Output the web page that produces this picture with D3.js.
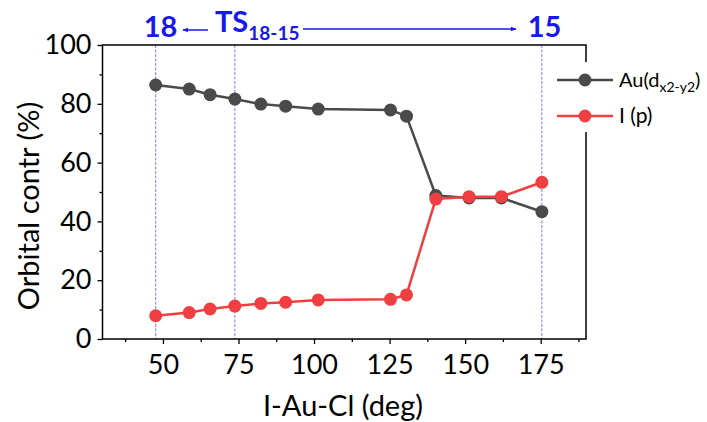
<!DOCTYPE html>
<html><head><meta charset="utf-8">
<script src="https://cdn.jsdelivr.net/npm/d3@7"></script>
<style>body{margin:0;background:#fff}svg{display:block}text{font-family:Lato,"Open Sans",sans-serif}</style>
</head><body><svg id="c" width="707" height="422"></svg>
<script>
const angles = [47.6, 58.7, 65.6, 73.8, 82.4, 90.6, 101.4, 125.3, 130.6, 140.3, 151.3, 162.0, 175.4];
const auVals = [86.4, 85.0, 83.1, 81.6, 79.9, 79.2, 78.2, 77.9, 75.8, 48.8, 48.0, 48.0, 43.3];
const iVals  = [7.9, 9.0, 10.2, 11.2, 12.1, 12.5, 13.3, 13.5, 15.0, 47.6, 48.4, 48.4, 53.3];
const xTicks = [50, 75, 100, 125, 150, 175];
const xMinor = [37.5, 62.5, 87.5, 112.5, 137.5, 162.5, 187.5];
const yTicks = [0, 20, 40, 60, 80, 100];
const yMinor = [10, 30, 50, 70, 90];
const markers = [47.6, 73.8, 175.4];
const seriesNames = ["Au", "I (p)"];

const svg = d3.select("#c");
const x = d3.scaleLinear().domain([30, 190]).range([102.5, 586]);
const y = d3.scaleLinear().domain([0, 100]).range([339, 45]);
const blue = "#1717ee";
const gray = "#4a4a4a", red = "#ef3f42";

// vertical dashed lines
svg.selectAll(".vl").data(markers).enter().append("line")
  .attr("x1", d => x(d)).attr("x2", d => x(d)).attr("y1", y(100)).attr("y2", y(0))
  .attr("stroke", "#5a5aff").attr("stroke-width", 1).attr("stroke-dasharray", "3,1.5").attr("opacity", 0.8);

// frame
svg.append("rect").attr("x", x(30)).attr("y", y(100)).attr("width", x(190) - x(30)).attr("height", y(0) - y(100))
  .attr("fill", "none").attr("stroke", "#000").attr("stroke-width", 1.5);

// axes
svg.append("g").attr("transform", `translate(0,${y(0)})`)
  .call(d3.axisBottom(x).tickValues(xTicks).tickSize(5).tickPadding(11).tickFormat(d3.format("d")));
svg.append("g").attr("transform", `translate(0,${y(0)})`)
  .call(d3.axisBottom(x).tickValues(xMinor).tickSize(3).tickFormat(""));
svg.append("g").attr("transform", `translate(${x(30)},0)`)
  .call(d3.axisLeft(y).tickValues(yTicks).tickSize(5).tickPadding(6).tickFormat(d3.format("d")));
svg.append("g").attr("transform", `translate(${x(30)},0)`)
  .call(d3.axisLeft(y).tickValues(yMinor).tickSize(3).tickFormat(""));
svg.selectAll(".domain").remove();
svg.selectAll(".tick line").attr("stroke", "#000").attr("stroke-width", 1.3);
svg.selectAll(".tick text").attr("font-size", 27).attr("fill", "#000").attr("font-family", "Lato");

// titles
svg.append("text").attr("transform", "translate(39,206) rotate(-90)").attr("text-anchor", "middle")
  .attr("font-size", 29).text("Orbital contr (%)");
svg.append("text").attr("x", 343).attr("y", 416).attr("text-anchor", "middle")
  .attr("font-size", 29).text("I-Au-Cl (deg)");

// series
const line = d3.line().x(d => x(d[0])).y(d => y(d[1]));
function drawSeries(vals, col) {
  const pts = angles.map((a, i) => [a, vals[i]]);
  svg.append("path").datum(pts).attr("d", line).attr("fill", "none").attr("stroke", col).attr("stroke-width", 2.5);
  svg.selectAll(null).data(pts).enter().append("circle")
    .attr("cx", d => x(d[0])).attr("cy", d => y(d[1])).attr("r", 6.5).attr("fill", col);
}
drawSeries(auVals, gray);
drawSeries(iVals, red);

// legend
svg.append("rect").attr("x", 552).attr("y", 62).attr("width", 155).attr("height", 70).attr("fill", "#fff");
const lg = [{c: gray, y: 80}, {c: red, y: 116}];
lg.forEach(l => {
  svg.append("line").attr("x1", 557).attr("x2", 613).attr("y1", l.y).attr("y2", l.y).attr("stroke", l.c).attr("stroke-width", 2.5);
  svg.append("circle").attr("cx", 585).attr("cy", l.y).attr("r", 6.5).attr("fill", l.c);
});
const t1 = svg.append("text").attr("x", 619).attr("y", 87).attr("font-size", 20);
t1.append("tspan").text("Au(d");
t1.append("tspan").attr("font-size", 14).attr("dy", 5).text("x2-y2");
t1.append("tspan").attr("dy", -5).text(")");
svg.append("text").attr("x", 619).attr("y", 123).attr("font-size", 21).text(seriesNames[1]);

// top annotation
svg.append("text").attr("x", 160.5).attr("y", 37).attr("text-anchor", "middle").attr("font-size", 29)
  .attr("font-weight", "bold").attr("fill", blue).text("18");
svg.append("text").attr("x", 544.5).attr("y", 37).attr("text-anchor", "middle").attr("font-size", 29)
  .attr("font-weight", "bold").attr("fill", blue).text("15");
const ts = svg.append("text").attr("x", 215).attr("y", 32).attr("font-size", 29).attr("font-weight", "bold").attr("fill", blue);
ts.append("tspan").text("TS");
ts.append("tspan").attr("font-size", 19).attr("dy", 8).text("18-15");

const defs = svg.append("defs");
defs.append("marker").attr("id", "ah").attr("viewBox", "0 0 10 10").attr("refX", 9).attr("refY", 5)
  .attr("markerWidth", 4).attr("markerHeight", 4).attr("orient", "auto-start-reverse")
  .append("path").attr("d", "M0,1 L10,5 L0,9 z").attr("fill", blue);
svg.append("line").attr("x1", 208).attr("x2", 183).attr("y1", 30).attr("y2", 30)
  .attr("stroke", blue).attr("stroke-width", 1.5).attr("marker-end", "url(#ah)");
svg.append("line").attr("x1", 303).attr("x2", 516).attr("y1", 29).attr("y2", 29)
  .attr("stroke", blue).attr("stroke-width", 1.5).attr("marker-end", "url(#ah)");
</script></body></html>
